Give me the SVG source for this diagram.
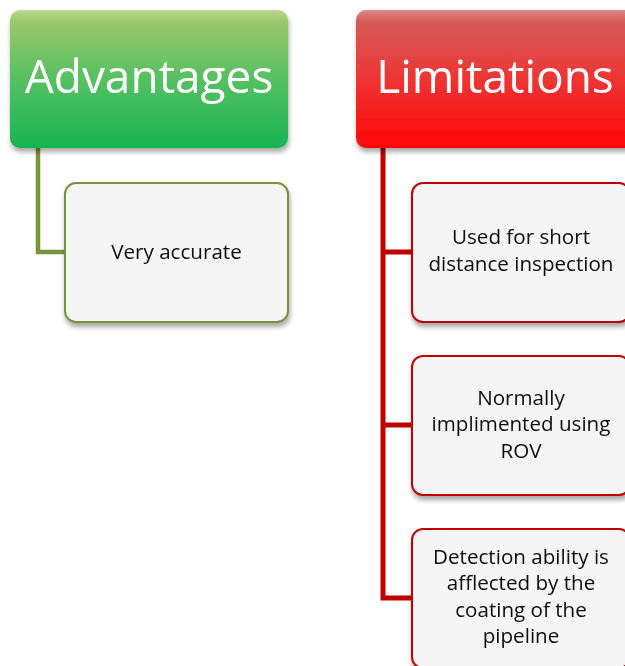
<svg xmlns="http://www.w3.org/2000/svg" width="625" height="666" viewBox="0 0 625 666">
  <defs>
    <linearGradient id="gradGreen" x1="0" y1="0" x2="0" y2="1">
      <stop offset="0" stop-color="#a2c662"/>
      <stop offset="0.5" stop-color="#50be5d"/>
      <stop offset="1" stop-color="#16b552"/>
    </linearGradient>
    <linearGradient id="gradRed" x1="0" y1="0" x2="0" y2="1">
      <stop offset="0" stop-color="#cd5855"/>
      <stop offset="0.5" stop-color="#ec2e2c"/>
      <stop offset="1" stop-color="#ff0505"/>
    </linearGradient>
    <linearGradient id="gloss" x1="0" y1="0" x2="0" y2="1">
      <stop offset="0" stop-color="#ffffff" stop-opacity="0.3"/>
      <stop offset="0.08" stop-color="#ffffff" stop-opacity="0.06"/>
      <stop offset="1" stop-color="#ffffff" stop-opacity="0"/>
    </linearGradient>
    <filter id="shadow" x="-10%" y="-10%" width="125%" height="130%">
      <feGaussianBlur in="SourceAlpha" stdDeviation="2.5"/>
      <feOffset dx="1" dy="4" result="b"/>
      <feComponentTransfer><feFuncA type="linear" slope="0.35"/></feComponentTransfer>
      <feMerge><feMergeNode/><feMergeNode in="SourceGraphic"/></feMerge>
    </filter>
  </defs>
  <style>
    .head { font-family: "Open Sans", "Liberation Sans", sans-serif; font-size: 46px; fill: #ffffff; text-anchor: middle; }
    .item { font-family: "Open Sans", "Liberation Sans", sans-serif; font-size: 20.6px; fill: #0d0d0d; text-anchor: middle; }
    .boxG { fill: #f5f5f5; stroke: #77933c; stroke-width: 2; }
    .boxR { fill: #f5f5f5; stroke: #c00000; stroke-width: 2; }
    .lineG { fill: none; stroke: #77933c; stroke-width: 4.5; }
    .lineR { fill: none; stroke: #c00000; stroke-width: 5; }
  </style>

  <!-- connectors -->
  <g id="connectors">
    <path class="lineG" d="M38,146 V252 H67"/>
    <path class="lineR" d="M383,146 V598 H414"/>
    <path class="lineR" d="M383,252 H414"/>
    <path class="lineR" d="M383,425 H414"/>
  </g>

  <!-- Advantages column -->
  <g id="advantages" filter="url(#shadow)">
    <rect x="10" y="10" width="278" height="138" rx="10" fill="url(#gradGreen)"/>
    <rect x="10" y="10" width="278" height="138" rx="10" fill="url(#gloss)"/>
    <text class="head" x="149" y="93">Advantages</text>
  </g>
  <g id="very-accurate" filter="url(#shadow)">
    <rect class="boxG" x="65" y="183" width="223" height="139" rx="11"/>
    <text class="item" x="176.5" y="259">Very accurate</text>
  </g>

  <!-- Limitations column -->
  <g id="limitations" filter="url(#shadow)">
    <rect x="356" y="10" width="290" height="138" rx="10" fill="url(#gradRed)"/>
    <rect x="356" y="10" width="290" height="138" rx="10" fill="url(#gloss)"/>
    <text class="head" x="495" y="93">Limitations</text>
  </g>
  <g id="short-distance" filter="url(#shadow)">
    <rect class="boxR" x="412" y="183" width="218" height="139" rx="11"/>
    <text class="item" x="521" y="244">Used for short</text>
    <text class="item" x="521" y="271">distance inspection</text>
  </g>
  <g id="rov" filter="url(#shadow)">
    <rect class="boxR" x="412" y="356" width="218" height="139" rx="11"/>
    <text class="item" x="521" y="405">Normally</text>
    <text class="item" x="521" y="431">implimented using</text>
    <text class="item" x="521" y="458">ROV</text>
  </g>
  <g id="coating" filter="url(#shadow)">
    <rect class="boxR" x="412" y="529" width="218" height="139" rx="11"/>
    <text class="item" x="521" y="564">Detection ability is</text>
    <text class="item" x="521" y="590">afflected by the</text>
    <text class="item" x="521" y="617">coating of the</text>
    <text class="item" x="521" y="643">pipeline</text>
  </g>
</svg>
